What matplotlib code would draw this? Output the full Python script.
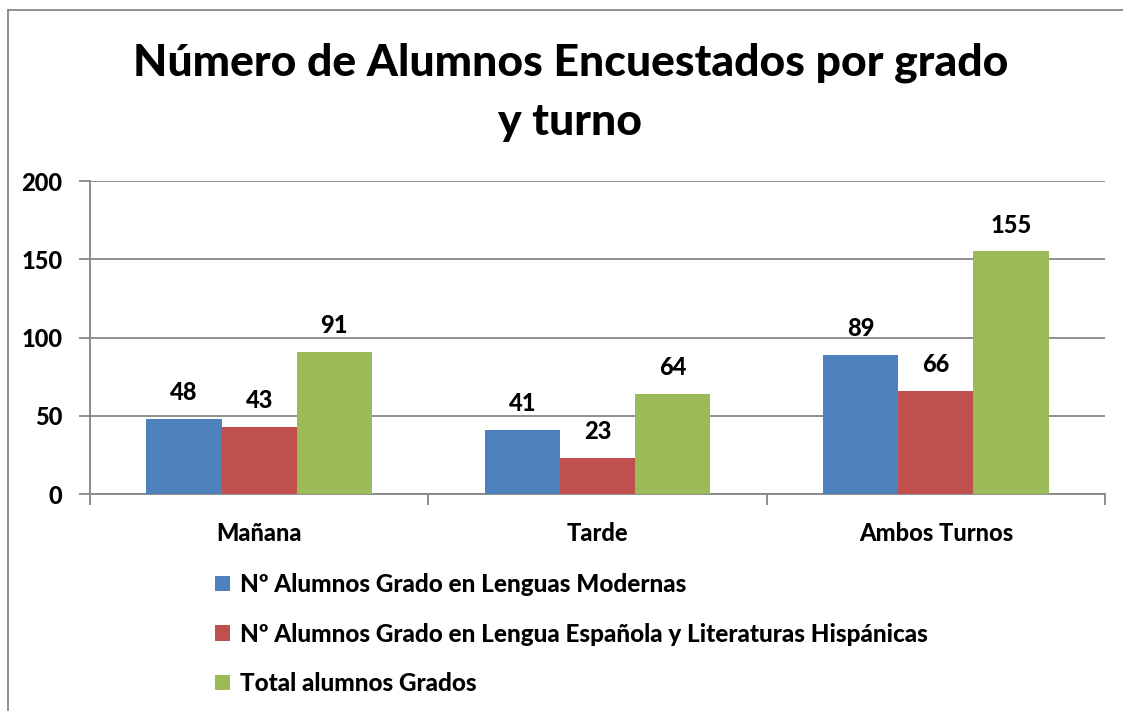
import numpy as np
import matplotlib.pyplot as plt
from matplotlib.lines import Line2D

# datos
turnos = ['Mañana', 'Tarde', 'Ambos Turnos']
lenguas_modernas = [48, 41, 89]
lengua_espanola = [43, 23, 66]
total_grados = [91, 64, 155]
series = ['Nº Alumnos Grado en Lenguas Modernas',
          'Nº Alumnos Grado en Lengua Española y Literaturas Hispánicas',
          'Total alumnos Grados']
colores = ['#4F81BD', '#C0504D', '#9BBB59']

plt.rcParams['font.family'] = ['Lato', 'DejaVu Sans']
plt.rcParams['font.weight'] = 900

fig = plt.figure(figsize=(11.23, 7.11), dpi=100)
ax = fig.add_axes([0.0801, 0.3052, 0.9039, 0.4402])

x = np.arange(len(turnos))
ancho = 0.222
valores = [lenguas_modernas, lengua_espanola, total_grados]
for i, (vals, col, nom) in enumerate(zip(valores, colores, series)):
    barras = ax.bar(x + (i - 1) * ancho, vals, ancho, color=col, label=nom, zorder=3)
    for b, v in zip(barras, vals):
        ax.annotate(str(v), (b.get_x() + b.get_width() / 2, v), xytext=(0, 19),
                    textcoords='offset points', ha='center', va='center',
                    fontsize=17, fontweight=900)

ax.set_xlim(-0.5, 2.5)
ax.set_ylim(0, 200)
ax.set_yticks([0, 50, 100, 150, 200])
ax.set_xticks(x)
ax.set_xticklabels(turnos, fontweight=900)
for t in ax.get_yticklabels():
    t.set_fontweight(900)
ax.grid(axis='y', color='#868686', linewidth=1.3, zorder=0)
for s in ['top', 'right']:
    ax.spines[s].set_visible(False)
ax.spines['left'].set_color('#868686')
ax.spines['bottom'].set_color('#868686')
ax.spines['left'].set_linewidth(1.3)
ax.spines['bottom'].set_linewidth(1.3)
ax.tick_params(axis='y', length=8, width=1.3, color='#868686', labelsize=17, pad=12)
ax.tick_params(axis='x', length=0, labelsize=17, pad=20)
ax.set_xticks([-0.5, 0.5, 1.5, 2.5], minor=True)
ax.tick_params(axis='x', which='minor', length=8, width=1.3, color='#868686', direction='out')

fig.text(0.508, 0.912, 'Número de Alumnos Encuestados por grado', ha='center', va='center',
         fontsize=32, fontweight=900)
fig.text(0.508, 0.828, 'y turno', ha='center', va='center', fontsize=32, fontweight=900)

fig.legend(loc='upper left', bbox_to_anchor=(0.183, 0.208), frameon=False,
           prop={'size': 17.5, 'weight': 900},
           handlelength=0.6, handleheight=0.6, handletextpad=0.4, labelspacing=1.1,
           borderaxespad=0)

# marco del gráfico
fig.add_artist(Line2D([0.007, 1.0], [0.986, 0.986], color='#868686', linewidth=1.3))
fig.add_artist(Line2D([0.007, 0.007], [0.0, 0.986], color='#868686', linewidth=1.3))

fig.savefig('out.png', dpi=100)
